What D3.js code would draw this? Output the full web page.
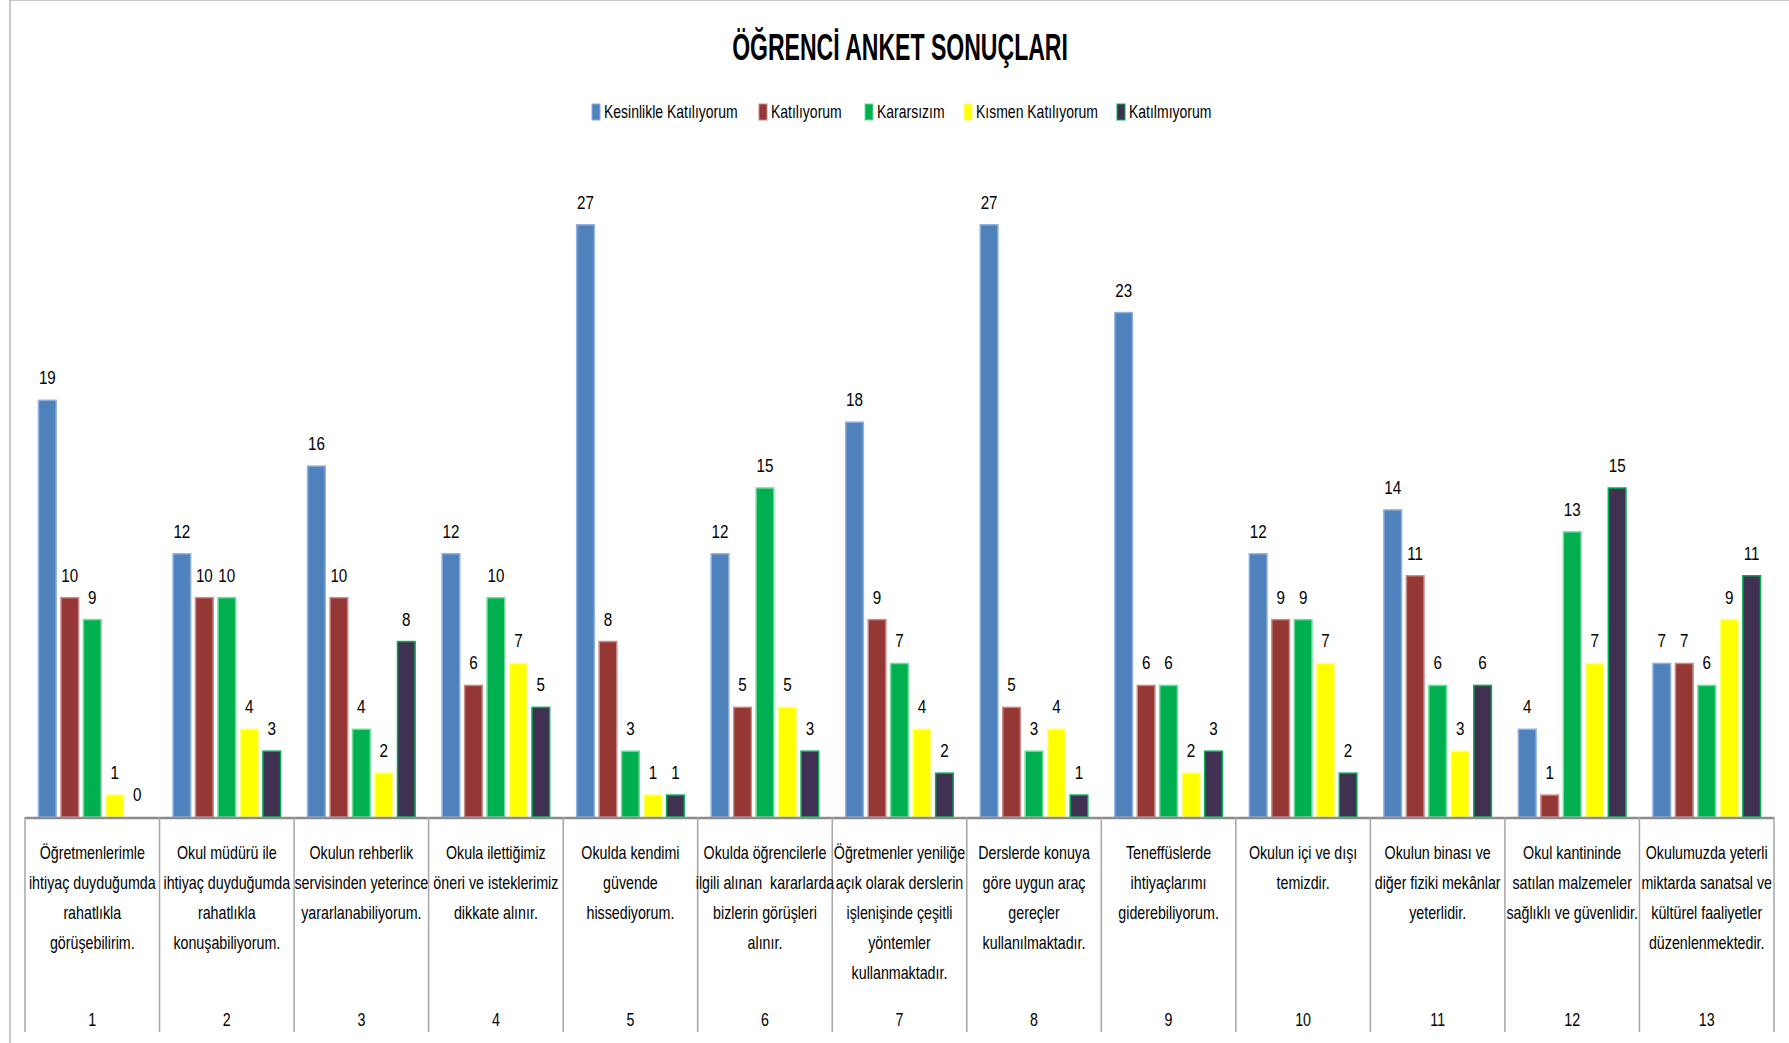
<!DOCTYPE html>
<html><head><meta charset="utf-8">
<script src="https://cdn.jsdelivr.net/npm/d3@7"></script>
<style>
html,body{margin:0;padding:0;background:#fff;}
svg{display:block;font-family:"Liberation Sans",Arial,sans-serif;}
</style></head>
<body>
<svg id="chart" width="1789" height="1043"></svg>
<script>
const title = "ÖĞRENCİ ANKET SONUÇLARI";
const seriesNames = ["Kesinlikle Katılıyorum","Katılıyorum","Kararsızım","Kısmen Katılıyorum","Katılmıyorum"];
const seriesColors = ["#4f81bd","#953735","#00b050","#ffff00","#403152"];
const seriesStrokes = ["#8fb0dc","#c98b8a","#6fdc9c","#ffff80","#00b050"];
const categoryNumbers = ["1","2","3","4","5","6","7","8","9","10","11","12","13"];
const categoryLabels = [
  ["Öğretmenlerimle","ihtiyaç duyduğumda","rahatlıkla","görüşebilirim."],
  ["Okul müdürü ile","ihtiyaç duyduğumda","rahatlıkla","konuşabiliyorum."],
  ["Okulun rehberlik","servisinden yeterince","yararlanabiliyorum."],
  ["Okula ilettiğimiz","öneri ve isteklerimiz","dikkate alınır."],
  ["Okulda kendimi","güvende","hissediyorum."],
  ["Okulda öğrencilerle","ilgili alınan  kararlarda","bizlerin görüşleri","alınır."],
  ["Öğretmenler yeniliğe","açık olarak derslerin","işlenişinde çeşitli","yöntemler","kullanmaktadır."],
  ["Derslerde konuya","göre uygun araç","gereçler","kullanılmaktadır."],
  ["Teneffüslerde","ihtiyaçlarımı","giderebiliyorum."],
  ["Okulun içi ve dışı","temizdir."],
  ["Okulun binası ve","diğer fiziki mekânlar","yeterlidir."],
  ["Okul kantininde","satılan malzemeler","sağlıklı ve güvenlidir."],
  ["Okulumuzda yeterli","miktarda sanatsal ve","kültürel faaliyetler","düzenlenmektedir."]
];
const kesinlikle = [19,12,16,12,27,12,18,27,23,12,14,4,7];
const katiliyorum = [10,10,10,6,8,5,9,5,6,9,11,1,7];
const kararsizim = [9,10,4,10,3,15,7,3,6,9,6,13,6];
const kismen = [1,4,2,7,1,5,4,4,2,7,3,7,9];
const katilmiyorum = [0,3,8,5,1,3,2,1,3,2,6,15,11];
const seriesValues = [kesinlikle,katiliyorum,kararsizim,kismen,katilmiyorum];

const svg = d3.select("#chart");
const W = 1789, H = 1043;
const plot = {left:25, right:1774, top:159, bottom:817};

// borders
svg.append("line").attr("x1",10).attr("x2",10).attr("y1",0).attr("y2",H).attr("stroke","#a6a6a6").attr("stroke-width",1.2);
svg.append("line").attr("x1",10).attr("x2",W).attr("y1",0.5).attr("y2",0.5).attr("stroke","#c8c8c8").attr("stroke-width",1.2);

// title
svg.append("g").attr("transform","translate(900,60) scale(0.64,1)")
  .append("text").attr("x",0).attr("y",0).attr("text-anchor","middle")
  .attr("font-size",36).attr("font-weight","bold").attr("fill","#000").text(title);

const x0 = d3.scaleBand().domain(categoryNumbers).range([plot.left, plot.right]).padding(0);
const bw = x0.bandwidth();
const x1 = d3.scaleBand().domain(seriesNames).range([13, bw-13]).paddingInner(0.17);
const y = d3.scaleLinear().domain([0,30]).range([plot.bottom, plot.top]);

// bars
const groups = svg.append("g").selectAll("g").data(categoryNumbers).join("g")
  .attr("transform", d => `translate(${x0(d)},0)`);
groups.each(function(c, ci){
  const g = d3.select(this);
  seriesNames.forEach((s, si) => {
    const v = seriesValues[si][ci];
    if (v > 0) {
      g.append("rect").attr("x", x1(s)+0.5).attr("width", x1.bandwidth()-1)
        .attr("y", y(v)).attr("height", y(0)-y(v))
        .attr("fill", seriesColors[si]).attr("stroke", seriesStrokes[si]).attr("stroke-width",1.5);
    }
    g.append("g").attr("transform", `translate(${x1(s)+x1.bandwidth()/2},${y(v)-16}) scale(0.8,1)`)
      .append("text").attr("text-anchor","middle").attr("font-size",19).attr("fill","#000").text(v);
  });
});

// axis line
svg.append("line").attr("x1",plot.left).attr("x2",plot.right).attr("y1",plot.bottom+1).attr("y2",plot.bottom+1)
  .attr("stroke","#8c8c8c").attr("stroke-width",2.5);
// separators
const seps = categoryNumbers.map(d => x0(d)).concat([plot.right]);
svg.append("g").selectAll("line").data(seps).join("line")
  .attr("x1", d=>d).attr("x2", d=>d).attr("y1", plot.bottom).attr("y2", 1032)
  .attr("stroke","#a6a6a6").attr("stroke-width",1.5);

// category labels
const lab = svg.append("g").selectAll("g").data(categoryNumbers).join("g")
  .attr("transform", d => `translate(${x0(d)+bw/2},0) scale(0.75,1)`);
lab.each(function(c, ci){
  const g = d3.select(this);
  categoryLabels[ci].forEach((line, li) => {
    g.append("text").attr("x",0).attr("y", 859 + li*30).attr("text-anchor","middle")
      .attr("font-size",19).attr("fill","#000").style("white-space","pre").text(line);
  });
  g.append("text").attr("x",0).attr("y",1026).attr("text-anchor","middle")
    .attr("font-size",19).attr("fill","#000").text(c);
});

// legend
const legendX = [592, 759, 865, 964, 1117];
const leg = svg.append("g").selectAll("g").data(seriesNames).join("g")
  .attr("transform", (d,i) => `translate(${legendX[i]},104)`);
leg.append("rect").attr("x",0).attr("y",0).attr("width",8).attr("height",16)
  .attr("fill",(d,i)=>seriesColors[i]).attr("stroke",(d,i)=>seriesStrokes[i]).attr("stroke-width",1);
leg.append("g").attr("transform","translate(12,14) scale(0.8,1)")
  .append("text").attr("font-size",17.5).attr("fill","#000").text(d=>d);
</script>
</body></html>
